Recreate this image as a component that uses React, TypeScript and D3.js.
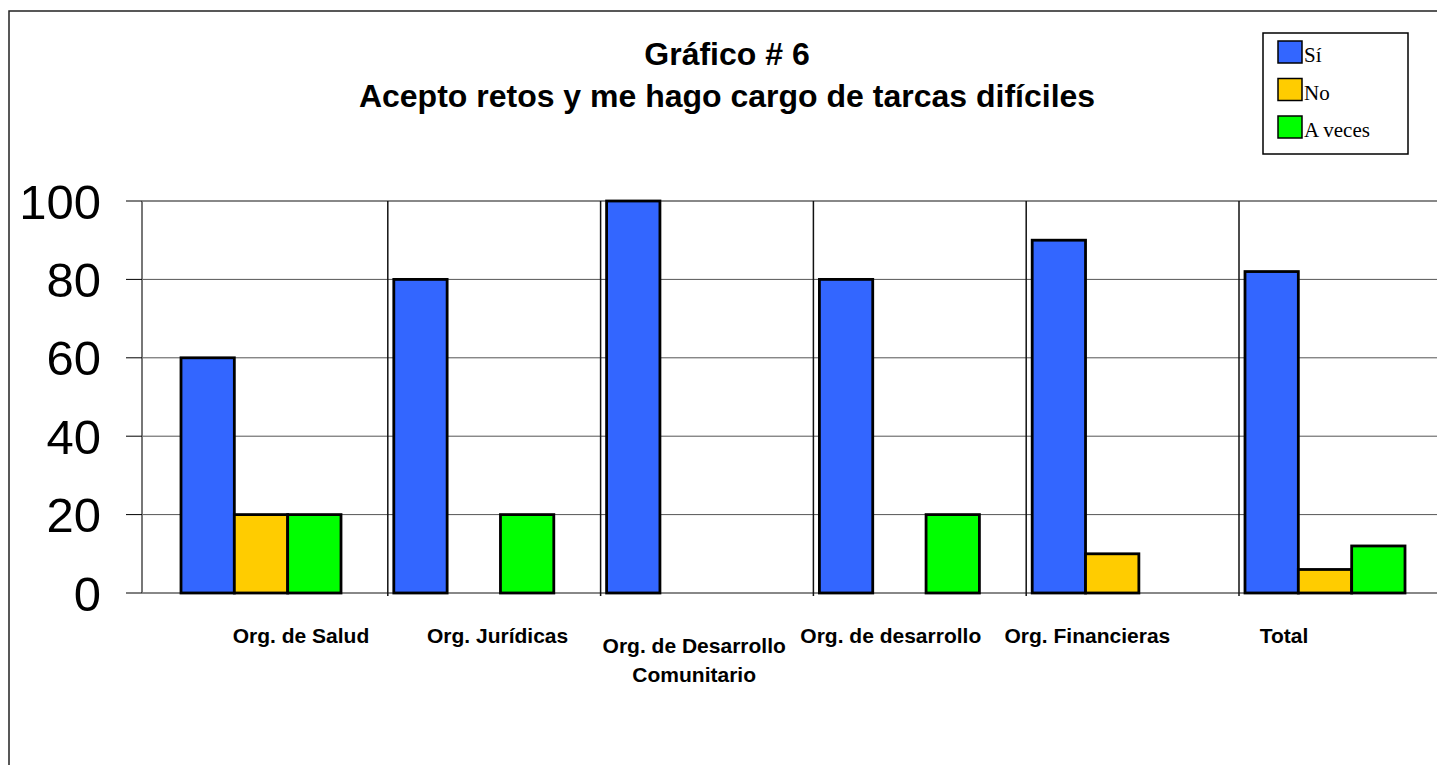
import React from "react";
import * as d3 from "d3";

const categories = [
  "Org. de Salud",
  "Org. Jurídicas",
  "Org. de Desarrollo Comunitario",
  "Org. de desarrollo",
  "Org. Financieras",
  "Total",
];
const seriesNames = ["Sí", "No", "A veces"];
const siValues = [60, 80, 100, 80, 90, 82];
const noValues = [20, 0, 0, 0, 10, 6];
const aVecesValues = [20, 20, 0, 20, 0, 12];
const yTicks = [0, 20, 40, 60, 80, 100];
const titleLines = ["Gráfico # 6", "Acepto retos y me hago cargo de tarcas difíciles"];
const colors = ["#3366FF", "#FFCC00", "#00FF00"];

const W = 1437;
const H = 765;
const SANS = "'Liberation Sans', Arial, sans-serif";
const SERIF = "'Liberation Serif', 'Times New Roman', serif";

function wrap(label: string, maxChars: number): string[] {
  const words = label.split(" ");
  const lines: string[] = [];
  let cur = "";
  for (const w of words) {
    const next = cur ? cur + " " + w : w;
    if (next.length > maxChars && cur) {
      lines.push(cur);
      cur = w;
    } else cur = next;
  }
  if (cur) lines.push(cur);
  return lines;
}

export default function App() {
  const values = [siValues, noValues, aVecesValues];
  const y = d3.scaleLinear().domain([0, 100]).range([593, 201]);
  const axisX = 142;
  const plotRight = W;
  const x0 = d3.scaleBand<string>().domain(categories).range([181, 181 + 6 * 212.8]).paddingInner(0).paddingOuter(0);
  const x1 = d3.scaleBand<string>().domain(seriesNames).range([0, 160]);
  const xLabel = d3.scalePoint<string>().domain(categories).range([301, 1284]);

  return (
    <svg
      width={W}
      height={H}
      style={{ position: "absolute", left: 0, top: 0, background: "#fff" }}
    >
      <rect x={9} y={11} width={1600} height={900} fill="#fff" stroke="#222" strokeWidth={1.5} />

      {titleLines.map((t, i) => (
        <text
          key={t}
          x={727}
          y={65 + i * 42}
          textAnchor="middle"
          fontFamily={SANS}
          fontWeight="bold"
          fontSize={32}
          fill="#000"
        >
          {t}
        </text>
      ))}

      {/* gridlines */}
      {yTicks.map((t) => (
        <line
          key={"g" + t}
          x1={axisX}
          x2={plotRight}
          y1={y(t)}
          y2={y(t)}
          stroke={t === 0 || t === 100 ? "#888" : "#555"}
          strokeWidth={t === 0 || t === 100 ? 2 : 1}
        />
      ))}

      {/* category separators */}
      {categories.slice(1).map((c) => (
        <line
          key={"s" + c}
          x1={(x0(c) as number) - 6}
          x2={(x0(c) as number) - 6}
          y1={y(100)}
          y2={y(0) + 3}
          stroke="#111"
          strokeWidth={1.5}
        />
      ))}

      {/* y axis */}
      <line x1={axisX} x2={axisX} y1={y(100)} y2={y(0)} stroke="#777" strokeWidth={2} />
      {yTicks.map((t) => (
        <g key={"t" + t}>
          <line x1={126} x2={axisX} y1={y(t)} y2={y(t)} stroke="#000" strokeWidth={1} />
          <text
            x={101}
            y={y(t)}
            dy="0.36em"
            textAnchor="end"
            fontFamily={SANS}
            fontSize={49}
            fill="#000"
          >
            {t}
          </text>
        </g>
      ))}

      {/* bars */}
      {categories.map((c, ci) =>
        seriesNames.map((s, si) => {
          const v = values[si][ci];
          if (!v) return null;
          return (
            <rect
              key={c + s}
              x={(x0(c) as number) + (x1(s) as number)}
              y={y(v)}
              width={x1.bandwidth()}
              height={y(0) - y(v)}
              fill={colors[si]}
              stroke="#000"
              strokeWidth={2.8}
            />
          );
        })
      )}

      {/* category labels */}
      {categories.map((c) => {
        const lines = wrap(c, 19);
        const baseY = lines.length > 1 ? 653 : 643;
        return (
          <text
            key={"l" + c}
            x={xLabel(c)}
            y={baseY}
            textAnchor="middle"
            fontFamily={SANS}
            fontWeight="bold"
            fontSize={21}
            fill="#000"
          >
            {lines.map((ln, i) => (
              <tspan key={i} x={xLabel(c)} dy={i === 0 ? 0 : 29}>
                {ln}
              </tspan>
            ))}
          </text>
        );
      })}

      {/* legend */}
      <rect x={1263} y={33} width={145} height={121} fill="#fff" stroke="#000" strokeWidth={1.5} />
      {seriesNames.map((s, i) => (
        <g key={"lg" + s}>
          <rect
            x={1278}
            y={41 + i * 37.5}
            width={24}
            height={22}
            fill={colors[i]}
            stroke="#000"
            strokeWidth={1.5}
          />
          <text x={1304} y={62 + i * 37.5} fontFamily={SERIF} fontSize={21} fill="#000">
            {s}
          </text>
        </g>
      ))}
    </svg>
  );
}
